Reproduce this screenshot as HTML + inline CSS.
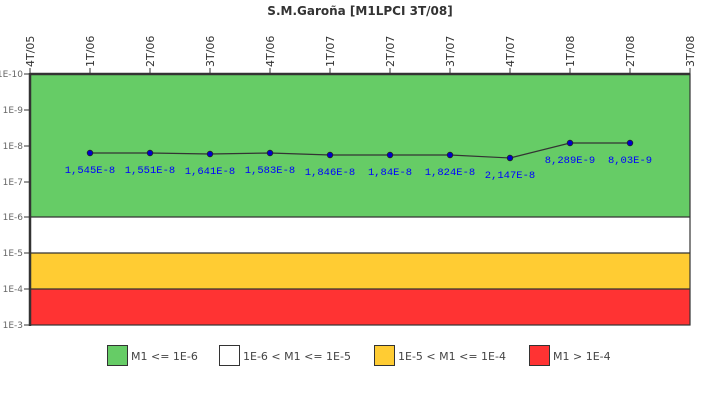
<!DOCTYPE html>
<html><head><meta charset="utf-8"><style>body{margin:0;background:#fff}svg{display:block}</style></head><body>
<svg width="720" height="400" xmlns="http://www.w3.org/2000/svg" font-family="DejaVu Sans, sans-serif">
<text x="360" y="15" text-anchor="middle" font-size="12" font-weight="bold" fill="#333">S.M.Garoña [M1LPCI 3T/08]</text>
<rect x="30" y="74" width="660" height="143" fill="#66cc66"/>
<rect x="30" y="217" width="660" height="36" fill="#fff"/>
<rect x="30" y="253" width="660" height="36" fill="#ffcc33"/>
<rect x="30" y="289" width="660" height="36" fill="#ff3333"/>
<g stroke="#333" stroke-width="1.2"><line x1="30" y1="217" x2="690" y2="217"/><line x1="30" y1="253" x2="690" y2="253"/><line x1="30" y1="289" x2="690" y2="289"/></g>
<rect x="30" y="74" width="660" height="251" fill="none" stroke="#333" stroke-width="1.2"/>
<line x1="30" y1="74" x2="690" y2="74" stroke="#333" stroke-width="2.5"/>
<line x1="30" y1="73" x2="30" y2="326" stroke="#333" stroke-width="2.5"/>
<g stroke="#333" stroke-width="1">
<line x1="24" y1="74" x2="30" y2="74"/><line x1="24" y1="110" x2="30" y2="110"/><line x1="24" y1="146" x2="30" y2="146"/><line x1="24" y1="182" x2="30" y2="182"/><line x1="24" y1="217" x2="30" y2="217"/><line x1="24" y1="253" x2="30" y2="253"/><line x1="24" y1="289" x2="30" y2="289"/><line x1="24" y1="325" x2="30" y2="325"/>
<line x1="30" y1="68" x2="30" y2="74"/><line x1="90" y1="68" x2="90" y2="74"/><line x1="150" y1="68" x2="150" y2="74"/><line x1="210" y1="68" x2="210" y2="74"/><line x1="270" y1="68" x2="270" y2="74"/><line x1="330" y1="68" x2="330" y2="74"/><line x1="390" y1="68" x2="390" y2="74"/><line x1="450" y1="68" x2="450" y2="74"/><line x1="510" y1="68" x2="510" y2="74"/><line x1="570" y1="68" x2="570" y2="74"/><line x1="630" y1="68" x2="630" y2="74"/><line x1="690" y1="68" x2="690" y2="74"/>
</g>
<g font-size="9" fill="#666" text-anchor="end">
<text x="23" y="77">1E-10</text><text x="23" y="113">1E-9</text><text x="23" y="149">1E-8</text><text x="23" y="185">1E-7</text><text x="23" y="220">1E-6</text><text x="23" y="256">1E-5</text><text x="23" y="292">1E-4</text><text x="23" y="328">1E-3</text>
</g>
<g font-size="11" fill="#333">
<text transform="translate(34,67) rotate(-90)">4T/05</text>
<text transform="translate(94,67) rotate(-90)">1T/06</text>
<text transform="translate(154,67) rotate(-90)">2T/06</text>
<text transform="translate(214,67) rotate(-90)">3T/06</text>
<text transform="translate(274,67) rotate(-90)">4T/06</text>
<text transform="translate(334,67) rotate(-90)">1T/07</text>
<text transform="translate(394,67) rotate(-90)">2T/07</text>
<text transform="translate(454,67) rotate(-90)">3T/07</text>
<text transform="translate(514,67) rotate(-90)">4T/07</text>
<text transform="translate(574,67) rotate(-90)">1T/08</text>
<text transform="translate(634,67) rotate(-90)">2T/08</text>
<text transform="translate(694,67) rotate(-90)">3T/08</text>
</g>
<polyline points="90,153 150,153 210,154 270,153 330,155 390,155 450,155 510,158 570,143 630,143" fill="none" stroke="#333" stroke-width="1.2"/>
<g fill="#0000cc" stroke="#222" stroke-width="0.8">
<circle cx="90" cy="153" r="2.8"/><circle cx="150" cy="153" r="2.8"/><circle cx="210" cy="154" r="2.8"/><circle cx="270" cy="153" r="2.8"/><circle cx="330" cy="155" r="2.8"/><circle cx="390" cy="155" r="2.8"/><circle cx="450" cy="155" r="2.8"/><circle cx="510" cy="158" r="2.8"/><circle cx="570" cy="143" r="2.8"/><circle cx="630" cy="143" r="2.8"/>
</g>
<g font-family="Liberation Mono, monospace" font-size="10.5" fill="#0000ff" text-anchor="middle">
<text x="90" y="173">1,545E-8</text><text x="150" y="173">1,551E-8</text><text x="210" y="174">1,641E-8</text><text x="270" y="173">1,583E-8</text><text x="330" y="175">1,846E-8</text><text x="390" y="175">1,84E-8</text><text x="450" y="175">1,824E-8</text><text x="510" y="178">2,147E-8</text><text x="570" y="163">8,289E-9</text><text x="630" y="163">8,03E-9</text>
</g>
<g stroke="#333" stroke-width="1">
<rect x="107.5" y="345.5" width="20" height="20" fill="#66cc66"/>
<rect x="219.5" y="345.5" width="20" height="20" fill="#fff"/>
<rect x="374.5" y="345.5" width="20" height="20" fill="#ffcc33"/>
<rect x="529.5" y="345.5" width="20" height="20" fill="#ff3333"/>
</g>
<g font-size="11" fill="#444">
<text x="131" y="360">M1 &lt;= 1E-6</text>
<text x="243" y="360">1E-6 &lt; M1 &lt;= 1E-5</text>
<text x="398" y="360">1E-5 &lt; M1 &lt;= 1E-4</text>
<text x="553" y="360">M1 &gt; 1E-4</text>
</g>
</svg>
</body></html>
